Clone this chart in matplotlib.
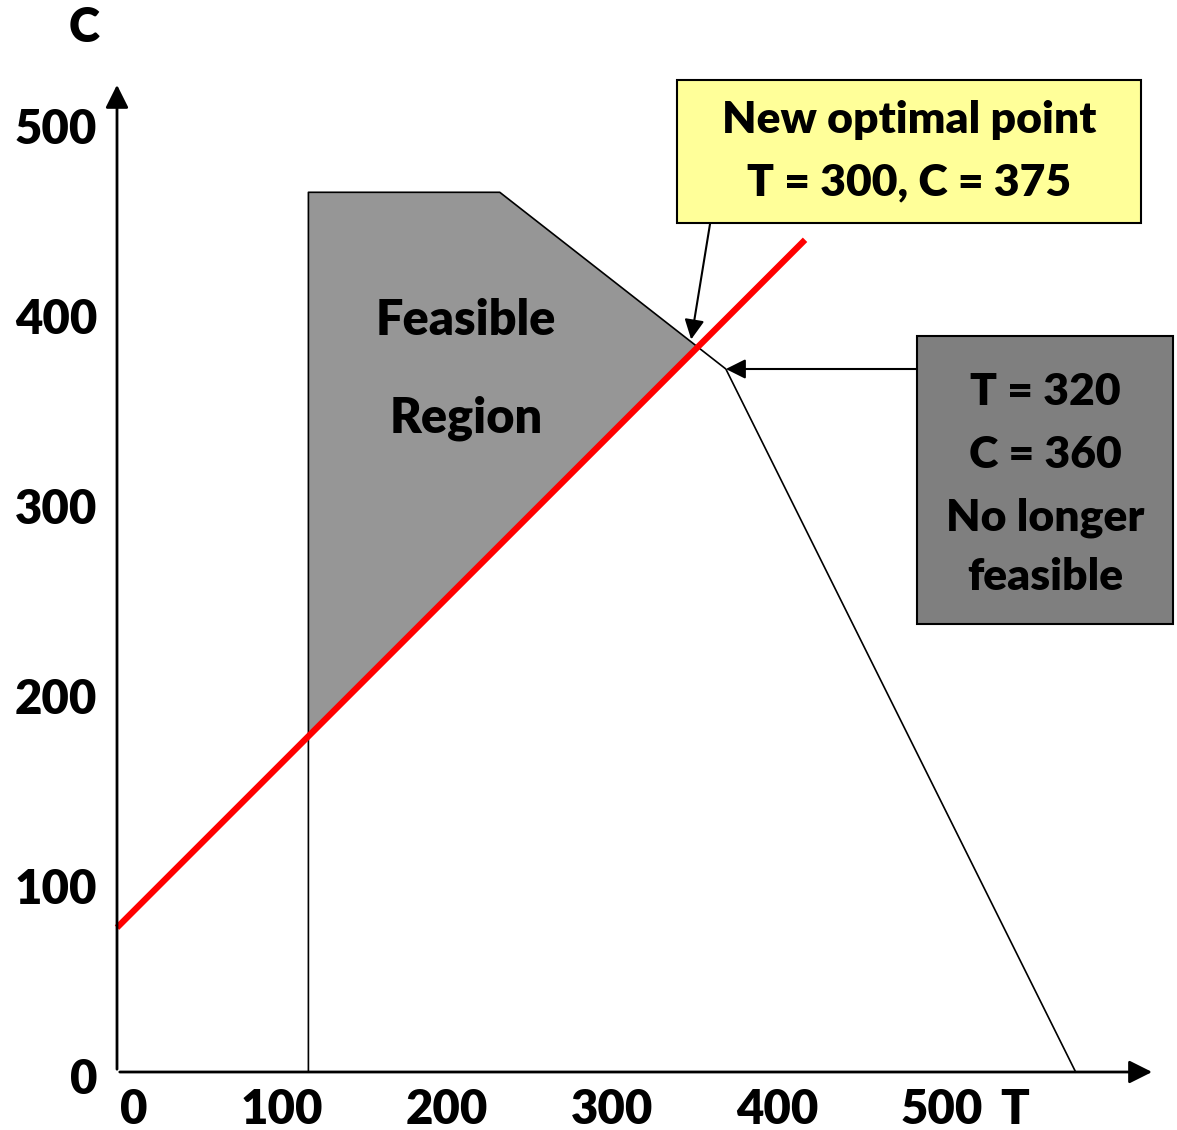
import numpy as np
import matplotlib.pyplot as plt
from matplotlib.patches import Polygon, Rectangle

plt.rcParams['font.family'] = ['Lato', 'DejaVu Sans']

# constraint boundary (T, C)
bound_T = [116, 116, 232, 369, 581]
bound_C = [0, 463, 463, 370, 0]
# objective line (red)
obj_T = [0, 417]
obj_C = [76, 438]

x_ticks = [0, 100, 200, 300, 400, 500]
y_ticks = [0, 100, 200, 300, 400, 500]

opt_text = ["New optimal point", "T = 300, C = 375"]
old_text = ["T = 320", "C = 360", "No longer", "feasible"]

W = "heavy"

fig = plt.figure(figsize=(11.77, 11.30), dpi=100)
ax = fig.add_axes([0, 0, 1, 1])
# pixel mapping: x = 117 + 1.65*T, y = 1072 - 1.9*C
ax.set_xlim(-117 / 1.65, (1177 - 117) / 1.65)
ax.set_ylim(-58 / 1.9, 1072 / 1.9)
ax.axis("off")

# intersection of objective with the sloped constraint
slope = (obj_C[1] - obj_C[0]) / (obj_T[1] - obj_T[0])
s2 = (bound_C[3] - bound_C[2]) / (bound_T[3] - bound_T[2])
t_int = (bound_C[2] - s2 * bound_T[2] - obj_C[0]) / (slope - s2)
c_int = obj_C[0] + slope * t_int
c_left = obj_C[0] + slope * bound_T[0]

region = Polygon([(bound_T[0], c_left), (bound_T[1], bound_C[1]), (bound_T[2], bound_C[2]),
                  (t_int, c_int)], closed=True, facecolor="#969696", edgecolor="none", zorder=1)
ax.add_patch(region)
ax.plot(bound_T, bound_C, color="black", lw=1.2, zorder=2)
ax.plot(obj_T, obj_C, color="#ff0000", lw=4.5, zorder=3, solid_capstyle="butt")

# axes with arrows
ax.annotate("", xy=(629, 0), xytext=(0, 0),
            arrowprops=dict(arrowstyle="-|>", lw=2, color="black", mutation_scale=35), zorder=4)
ax.annotate("", xy=(0, 521), xytext=(0, 0),
            arrowprops=dict(arrowstyle="-|>", lw=2, color="black", mutation_scale=35), zorder=4)

fs = 34
for v in y_ticks:
    ax.text(-12, v - 4, str(v), ha="right", va="center", fontsize=fs, fontweight=W)
for v in x_ticks:
    if v == 0:
        ax.text(2, -20, str(v), ha="left", va="center", fontsize=fs, fontweight=W)
    else:
        ax.text(v, -20, str(v), ha="center", va="center", fontsize=fs, fontweight=W)
ax.text(544, -20, "T", ha="center", va="center", fontsize=fs, fontweight=W)
ax.text(-20, 549.5, "C", ha="center", va="center", fontsize=fs, fontweight=W)

ax.text(211.5, 395.3, "Feasible", ha="center", va="center", fontsize=35, fontweight=W, zorder=5)
ax.text(211.5, 344.2, "Region", ha="center", va="center", fontsize=35, fontweight=W, zorder=5)

# yellow callout
ax.add_patch(Rectangle((339.4, 446.8), 620.6 - 339.4, 522.1 - 446.8, facecolor="#ffff99",
                       edgecolor="black", lw=1.5, zorder=5, clip_on=False))
for txt, c in zip(opt_text, [501, 468]):
    ax.text(480, c, txt, ha="center", va="center", fontsize=32, fontweight=W, zorder=6)
ax.annotate("", xy=(t_int - 4, c_int + 4), xytext=(359.4, 446.3),
            arrowprops=dict(arrowstyle="-|>", lw=1.5, color="black", mutation_scale=30,
                            shrinkA=0, shrinkB=0), zorder=6)

# gray callout
ax.add_patch(Rectangle((484.8, 235.8), 640 - 484.8, 387.4 - 235.8, facecolor="#7f7f7f",
                       edgecolor="black", lw=1.5, zorder=5, clip_on=False))
for txt, c in zip(old_text, [357.9, 324.7, 291.6, 260.5]):
    ax.text(562.4, c, txt, ha="center", va="center", fontsize=32, fontweight=W, zorder=6)
ax.annotate("", xy=(bound_T[3], bound_C[3]), xytext=(484.8, bound_C[3]),
            arrowprops=dict(arrowstyle="-|>", lw=1.5, color="black", mutation_scale=30,
                            shrinkA=0, shrinkB=0), zorder=6)

fig.savefig("out.png", dpi=100)
